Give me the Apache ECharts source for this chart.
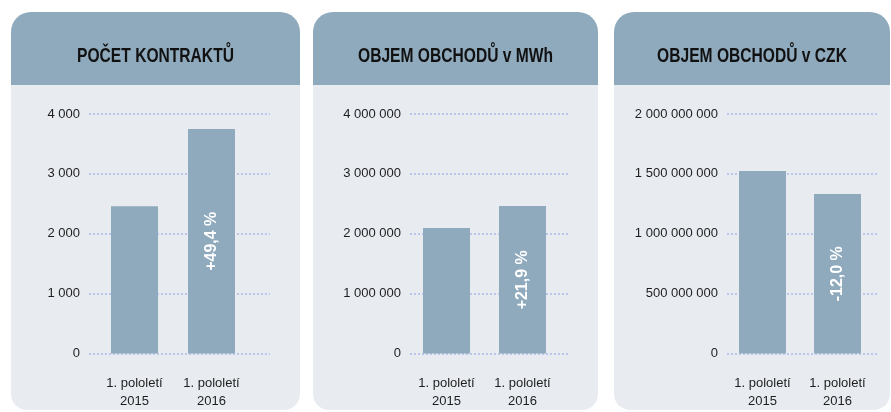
<!DOCTYPE html>
<html>
<head>
<meta charset="utf-8">
<script src="https://cdn.jsdelivr.net/npm/echarts@6/dist/echarts.min.js"></script>
<style>
html,body{margin:0;padding:0;background:#ffffff;}
#chart{width:891px;height:412px;}
</style>
</head>
<body>
<div id="chart"></div>
<script>
// ---- data ----
const categories = ['1. pololetí\n2015', '1. pololetí\n2016'];
const panelTitles = ['POČET KONTRAKTŮ', 'OBJEM OBCHODŮ v MWh', 'OBJEM OBCHODŮ v CZK'];
const contracts = [2460, 3750];
const volumeMWh = [2095000, 2462000];
const volumeCZK = [1524000000, 1332000000];
const changeLabels = ['+49,4 %', '+21,9 %', '-12,0 %'];
const axisMax = [4000, 4000000, 2000000000];
const axisStep = [1000, 1000000, 500000000];

const seriesValues = [contracts, volumeMWh, volumeCZK];

// ---- layout (styles only) ----
const FONT = "'Liberation Sans', Arial, sans-serif";
const HEADER = '#8faabd';
const BODY = '#e8ebf0';
const BAR = '#8faabd';
const GRIDC = '#aabaea';
const TEXT = '#1e1e1e';

const panels = [
  {x: 11, w: 289, gridL: 89, gridW: 181, barL: 96, barW: 154},
  {x: 313, w: 285, gridL: 410, gridW: 159, barL: 408.5, barW: 152},
  {x: 614, w: 276, gridL: 727, gridW: 151, barL: 725, barW: 150}
];
const TOP = 114, H = 239.5;

function fmt(v) {
  return String(v).replace(/\B(?=(\d{3})+(?!\d))/g, ' ');
}

const grid = [], xAxis = [], yAxis = [], series = [], graphic = [];

panels.forEach((p, i) => {
  // background panel
  graphic.push({
    type: 'rect', z: -10, silent: true,
    shape: {x: p.x, y: 85, width: p.w, height: 325, r: [0, 0, 16, 16]},
    style: {fill: BODY}
  });
  graphic.push({
    type: 'rect', z: -10, silent: true,
    shape: {x: p.x, y: 12, width: p.w, height: 73, r: [20, 20, 0, 0]},
    style: {fill: HEADER}
  });
  graphic.push({
    type: 'text', z: -5, silent: true,
    x: p.x + p.w / 2, y: 56.5, scaleX: 0.8,
    style: {
      text: panelTitles[i], align: 'center', verticalAlign: 'middle',
      fontFamily: FONT, fontWeight: 'bold', fontSize: 19.5, fill: '#111111'
    }
  });

  // grid for gridlines + value labels
  const gi = grid.length;
  grid.push({left: p.gridL, top: TOP, width: p.gridW, height: H});
  xAxis.push({gridIndex: gi, type: 'value', show: false, min: 0, max: 1});
  yAxis.push({
    gridIndex: gi, type: 'value', min: 0, max: axisMax[i], interval: axisStep[i],
    axisLine: {show: false}, axisTick: {show: false},
    axisLabel: {margin: 9, color: TEXT, fontFamily: FONT, fontSize: 13, formatter: fmt},
    splitLine: {show: true, lineStyle: {color: GRIDC, width: 1.5, type: [2, 2]}}
  });

  // grid for bars
  const bi = grid.length;
  grid.push({left: p.barL, top: TOP, width: p.barW, height: H});
  xAxis.push({
    gridIndex: bi, type: 'category', data: categories,
    axisLine: {show: false}, axisTick: {show: false},
    axisLabel: {interval: 0, margin: 21, color: TEXT, fontFamily: FONT, fontSize: 13, lineHeight: 18}
  });
  yAxis.push({
    gridIndex: bi, type: 'value', min: 0, max: axisMax[i], interval: axisStep[i],
    show: false, splitLine: {show: false}
  });

  series.push({
    type: 'bar', xAxisIndex: bi, yAxisIndex: bi,
    barWidth: 47,
    itemStyle: {color: BAR},
    data: seriesValues[i].map((v, k) => k === 1 ? {
      value: v,
      label: {
        show: true, position: 'inside', rotate: 90,
        formatter: changeLabels[i],
        color: '#ffffff', fontFamily: FONT, fontWeight: 'bold', fontSize: 16
      }
    } : v)
  });
});

const chart = echarts.init(document.getElementById('chart'), null, {renderer: 'canvas'});
chart.setOption({
  animation: false,
  backgroundColor: '#ffffff',
  graphic: graphic,
  grid: grid,
  xAxis: xAxis,
  yAxis: yAxis,
  series: series
});
</script>
</body>
</html>
